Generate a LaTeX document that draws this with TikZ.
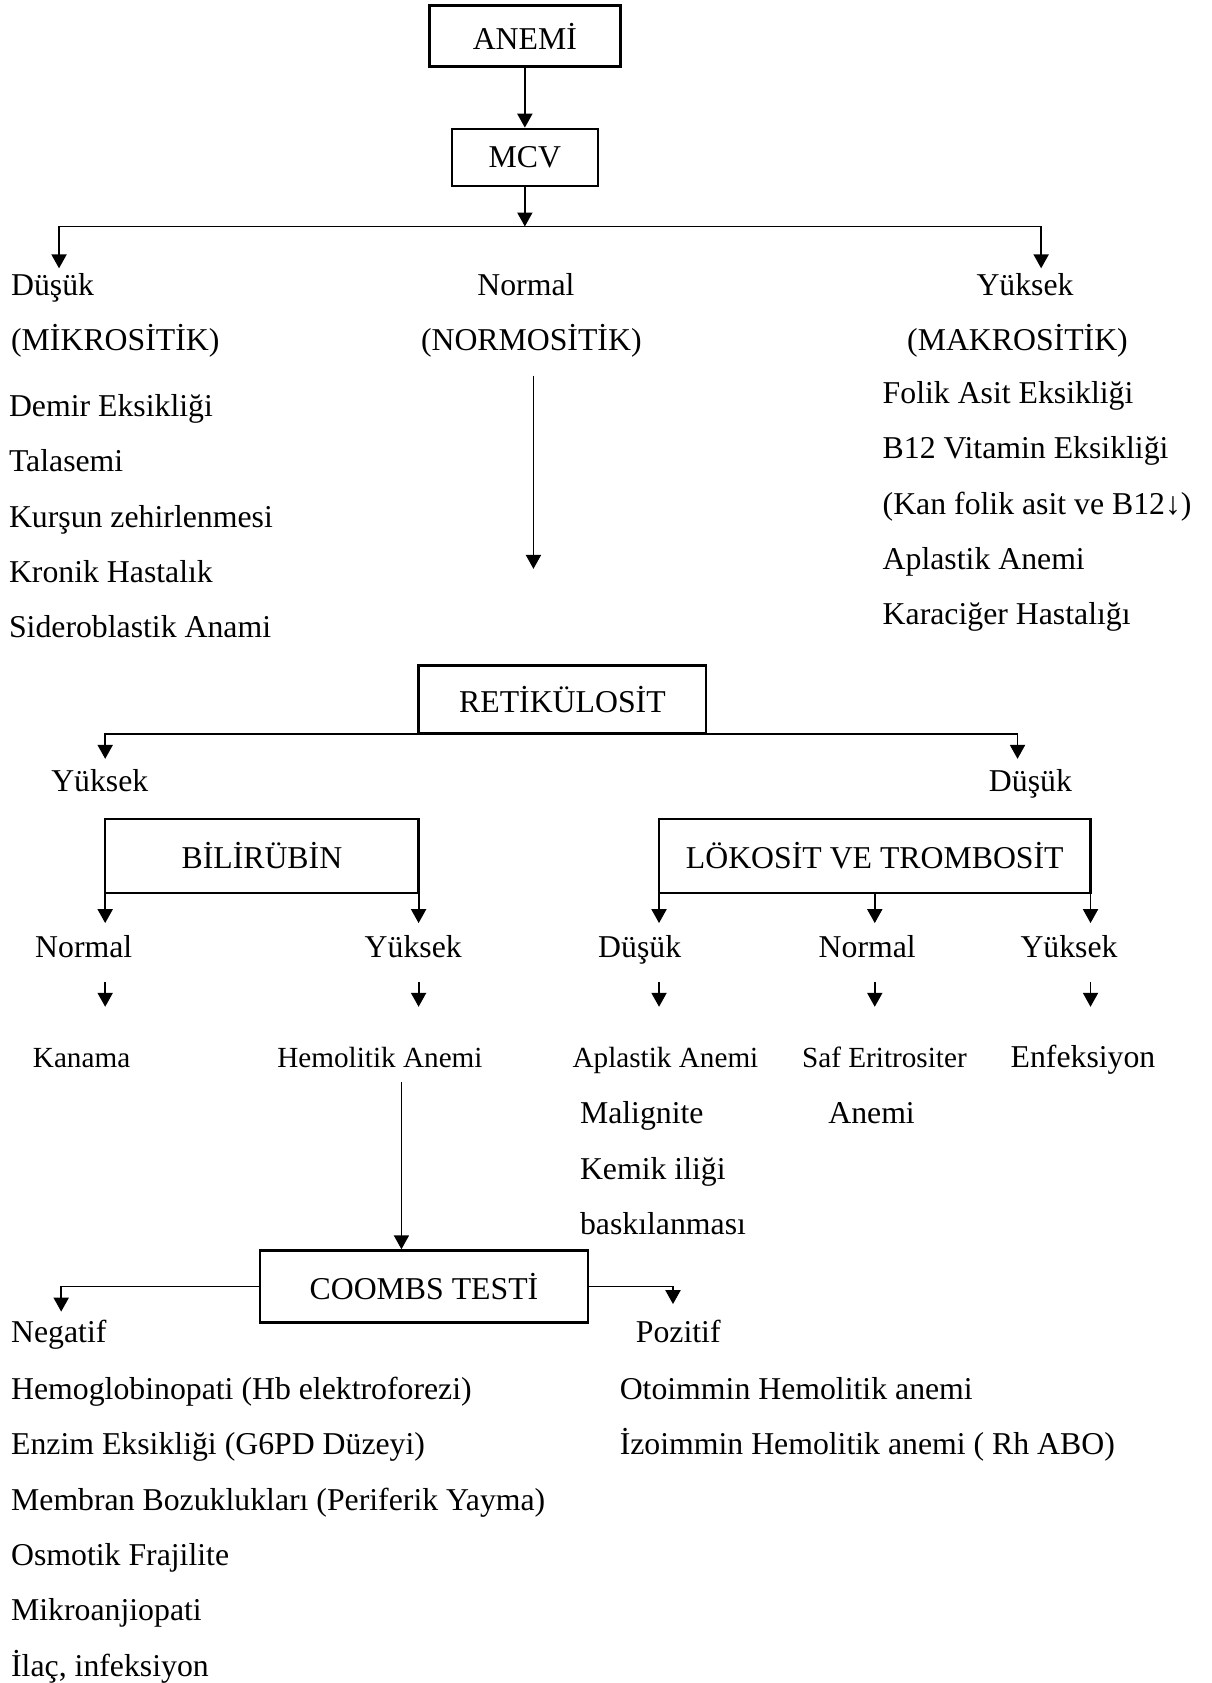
\documentclass[tikz,border=0pt]{standalone}
\usepackage{fontspec}
\setmainfont{Liberation Serif}
\usetikzlibrary{arrows.meta}

\begin{document}
\begin{tikzpicture}[x=0.5pt,y=-0.5pt,font=\fontsize{14.8}{17.8}\selectfont]
	\tikzset{mybox/.style={draw,line width=1.1pt,inner sep=0pt},
		myarrow/.style={-{Triangle[length=6.5pt,width=7pt]},line width=0.85pt},
		txt/.style={inner sep=0pt,anchor=base},
		ltxt/.style={inner sep=0pt,anchor=base west},
		small/.style={font=\fontsize{13.6}{16}\selectfont}}
	\def\ls{51.5}% line spacing of the lists
	\useasboundingbox (0,0) rectangle (1129,1568);
	% boxes
	\node[mybox,minimum width=89pt,minimum height=28.5pt] (anemi) at (489,33.5) {ANEMİ};
	\node[mybox,minimum width=68pt,minimum height=26.5pt] (mcv) at (489,146.5) {MCV};
	\node[mybox,minimum width=134pt,minimum height=31.5pt] (ret) at (524,651.5) {RETİKÜLOSİT};
	\node[mybox,minimum width=146pt,minimum height=34.5pt] (bil) at (244,797.5) {BİLİRÜBİN};
	\node[mybox,minimum width=201pt,minimum height=34.5pt] (lok) at (815,797.5) {LÖKOSİT VE TROMBOSİT};
	\node[mybox,minimum width=153pt,minimum height=33.5pt] (coombs) at (395,1198.5) {COOMBS TESTİ};
	% MCV branches
	\node[ltxt] (dus1) at (10,275) {Düşük};
	\node[txt] (nor1) at (490,275) {Normal};
	\node[txt] (yuk1) at (955,275) {Yüksek};
	\node[ltxt] (mikro) at (10,327) {(MİKROSİTİK)};
	\node[txt] (normo) at (495,327) {(NORMOSİTİK)};
	\node[txt] (makro) at (948,327) {(MAKROSİTİK)};
	\foreach \t [count=\i] in {Demir Eksikliği,Talasemi,Kurşun zehirlenmesi,Kronik Hastalık,Sideroblastik Anami}
		\node[ltxt] (mik\i) at (8,{388+(\i-1)*\ls}) {\t};
	\foreach \t [count=\i] in {Folik Asit Eksikliği,B12 Vitamin Eksikliği,(Kan folik asit ve B12↓),Aplastik Anemi,Karaciğer Hastalığı}
		\node[ltxt] (mak\i) at (822,{376+(\i-1)*\ls}) {\t};
	\coordinate (mcvS) at (489,211);
	\coordinate (dusA) at (55,250);
	\coordinate (yukA) at (970,250);
	\coordinate (norA) at (497,350);
	\coordinate (norB) at (497,530);
	\draw[myarrow] (anemi) -- (mcv);
	\draw[myarrow] (mcv) -- (mcvS);
	\draw[myarrow] (mcvS) -| (dusA);
	\draw[myarrow] (mcvS) -| (yukA);
	\draw[myarrow] (norA) -- (norB);
	% retikulosit
	\node[txt] (retY) at (93,737) {Yüksek};
	\node[txt] (retD) at (960,737) {Düşük};
	\coordinate (retYA) at (98,707);
	\coordinate (retDA) at (948,707);
	\draw[myarrow] (ret.south) -| (retYA);
	\draw[myarrow] (ret.south) -| (retDA);
	% bilirubin, lokosit ve trombosit
	\foreach \n/\x/\t in {b1/78/Normal,b2/385/Yüksek,l1/596/Düşük,l2/808/Normal,l3/996/Yüksek}
		\node[txt] (\n) at (\x,892) {\t};
	\foreach \x in {98,390,614,815,1016}{
		\coordinate (top\x) at (\x,832);
		\coordinate (mid\x) at (\x,860);
		\coordinate (lo\x) at (\x,915);
		\coordinate (end\x) at (\x,938);
		\draw[myarrow] (top\x) -- (mid\x);
		\draw[myarrow] (lo\x) -- (end\x);
	}
	\node[txt,small] (kan) at (76,995) {Kanama};
	\node[txt,small] (hem) at (354,995) {Hemolitik Anemi};
	\node[txt,small] (apl) at (620,995) {Aplastik Anemi};
	\node[txt,small] (saf) at (824,995) {Saf Eritrositer};
	\node[txt] (enf) at (1009,995) {Enfeksiyon};
	\node[txt] (safA) at (812,1047) {Anemi};
	\foreach \t [count=\i] in {Malignite,Kemik iliği,baskılanması}
		\node[ltxt] (apl\i) at (540,{1047+(\i-1)*\ls}) {\t};
	\coordinate (hemA) at (374,1008);
	\draw[myarrow] (hemA) -- (hemA |- coombs.north);
	% coombs
	\node[ltxt] (neg) at (10,1251) {Negatif};
	\node[ltxt] (poz) at (592,1251) {Pozitif};
	\coordinate (negA) at (57,1222);
	\coordinate (pozA) at (627,1215);
	\draw[myarrow] (coombs.west) -| (negA);
	\draw[myarrow] (coombs.east) -| (pozA);
	\foreach \t [count=\i] in {Hemoglobinopati (Hb elektroforezi),Enzim Eksikliği (G6PD Düzeyi),Membran Bozuklukları (Periferik Yayma),Osmotik Frajilite,Mikroanjiopati,{İlaç, infeksiyon}}
		\node[ltxt] (neg\i) at (10,{1304+(\i-1)*\ls}) {\t};
	\foreach \t [count=\i] in {Otoimmin Hemolitik anemi,İzoimmin Hemolitik anemi ( Rh ABO)}
		\node[ltxt] (poz\i) at (577,{1304+(\i-1)*\ls}) {\t};
\end{tikzpicture}
\end{document}
